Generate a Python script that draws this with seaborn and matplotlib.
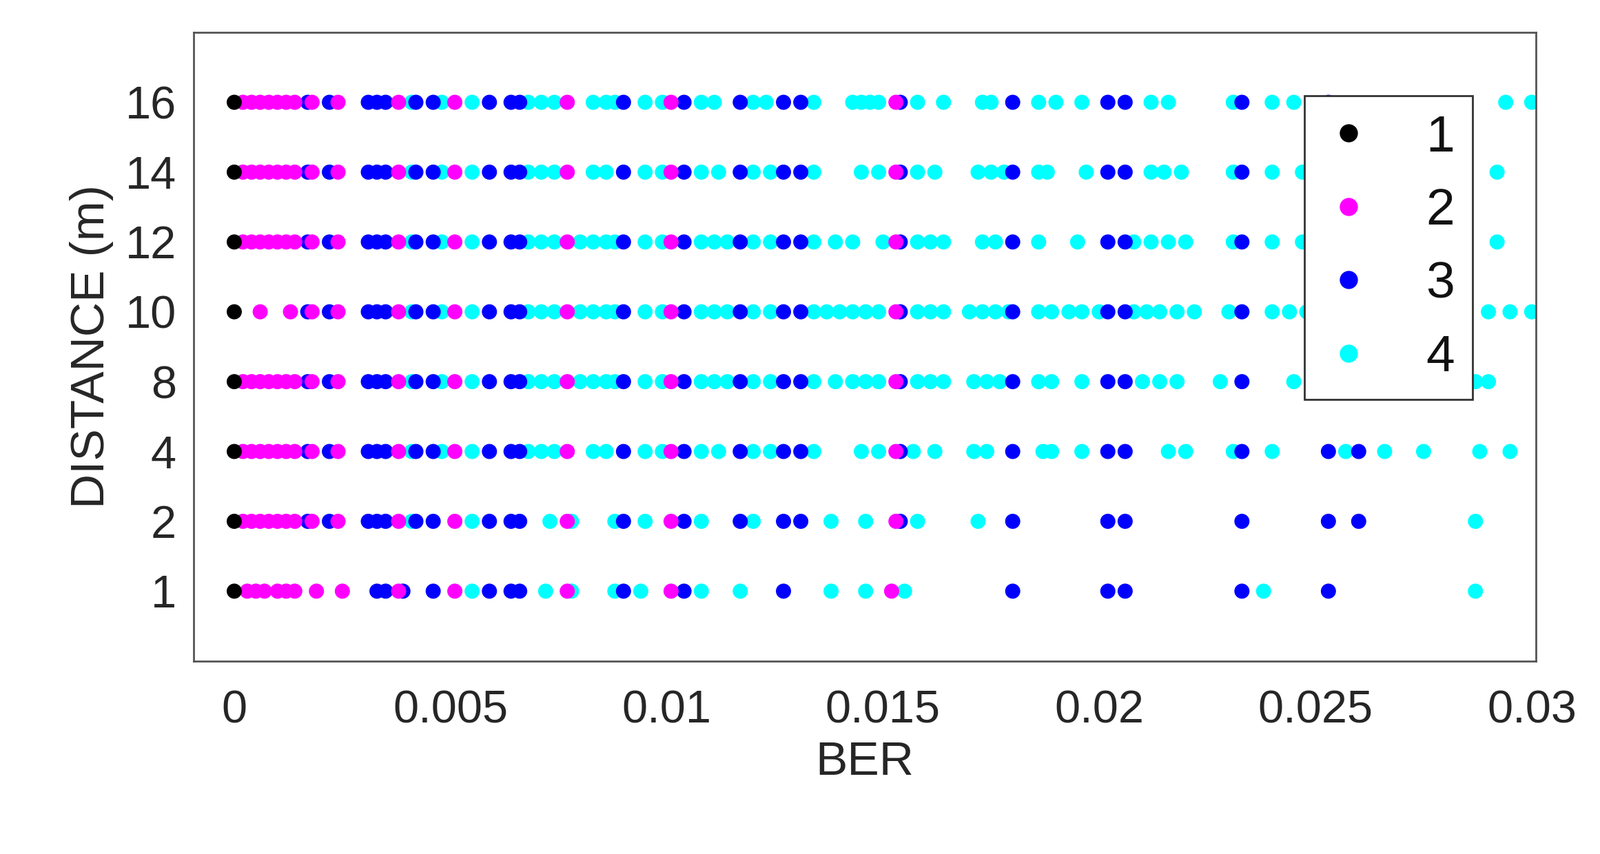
import pandas as pd
import matplotlib.pyplot as plt
import seaborn as sns

sns.set_style("white")
plt.rcParams['font.family'] = ['Liberation Sans', 'DejaVu Sans']

distances = [1, 2, 4, 8, 10, 12, 14, 16]
classes = ["1", "2", "3", "4"]
colors = ["black", "magenta", "blue", "cyan"]

mag_full = [0.0002, 0.0004, 0.0006, 0.0008, 0.0010, 0.0012, 0.0014, 0.0018, 0.0024,
            0.0038, 0.0051, 0.0077, 0.0101, 0.0153]
mag_10 = [0.0006, 0.0013, 0.0018, 0.0024, 0.0038, 0.0051, 0.0077, 0.0101, 0.0153]
mag_1 = [0.0003, 0.0005, 0.0007, 0.0010, 0.0012, 0.0014, 0.0019, 0.0025, 0.0038,
         0.0051, 0.0077, 0.0101, 0.0152]

blue_full = [0.0017, 0.0022, 0.0031, 0.0033, 0.0035, 0.0042, 0.0046, 0.0059, 0.0064,
             0.0066, 0.0090, 0.0104, 0.0117, 0.0127, 0.0131, 0.0154, 0.0180, 0.0202,
             0.0206, 0.0233, 0.0253]
blue_2 = blue_full + [0.0260]
blue_1 = [0.0033, 0.0035, 0.0039, 0.0046, 0.0059, 0.0064, 0.0066, 0.0090, 0.0104,
          0.0127, 0.0180, 0.0202, 0.0206, 0.0233, 0.0253]

cyan_rows = {
    16: [0.0041, 0.0048, 0.0055, 0.0068, 0.0071, 0.0074, 0.0083, 0.0086, 0.0088, 0.0095,
         0.0099, 0.0108, 0.0111, 0.0120, 0.0123, 0.0134, 0.0143, 0.0145, 0.0147, 0.0149,
         0.0158, 0.0164, 0.0173, 0.0175, 0.0186, 0.0190, 0.0196, 0.0212, 0.0216, 0.0231,
         0.0240, 0.0245, 0.0294, 0.0300],
    14: [0.0041, 0.0048, 0.0055, 0.0068, 0.0071, 0.0074, 0.0083, 0.0086, 0.0095, 0.0099,
         0.0108, 0.0112, 0.0120, 0.0124, 0.0134, 0.0145, 0.0149, 0.0158, 0.0162, 0.0172,
         0.0175, 0.0178, 0.0186, 0.0188, 0.0197, 0.0212, 0.0215, 0.0219, 0.0231, 0.0240,
         0.0247, 0.0249, 0.0265, 0.0270, 0.0275, 0.0292],
    12: [0.0041, 0.0048, 0.0055, 0.0068, 0.0071, 0.0074, 0.0080, 0.0083, 0.0086, 0.0088,
         0.0095, 0.0099, 0.0108, 0.0111, 0.0114, 0.0120, 0.0124, 0.0134, 0.0139, 0.0143,
         0.0150, 0.0158, 0.0161, 0.0164, 0.0173, 0.0176, 0.0186, 0.0195, 0.0208, 0.0212,
         0.0216, 0.0220, 0.0231, 0.0240, 0.0247, 0.0250, 0.0262, 0.0272, 0.0275, 0.0292],
    10: [0.0041, 0.0048, 0.0055, 0.0068, 0.0071, 0.0074, 0.0080, 0.0083, 0.0086, 0.0088,
         0.0095, 0.0099, 0.0108, 0.0111, 0.0114, 0.0120, 0.0124, 0.0134, 0.0137, 0.0140,
         0.0143, 0.0146, 0.0149, 0.0158, 0.0161, 0.0164, 0.0170, 0.0173, 0.0176, 0.0179,
         0.0186, 0.0189, 0.0193, 0.0196, 0.0200, 0.0208, 0.0211, 0.0214, 0.0218, 0.0222,
         0.0230, 0.0240, 0.0244, 0.0248, 0.0262, 0.0268, 0.0273, 0.0290, 0.0295, 0.0300],
    8: [0.0041, 0.0048, 0.0055, 0.0068, 0.0071, 0.0074, 0.0080, 0.0083, 0.0086, 0.0088,
        0.0095, 0.0099, 0.0108, 0.0111, 0.0114, 0.0120, 0.0124, 0.0134, 0.0139, 0.0143,
        0.0146, 0.0149, 0.0158, 0.0161, 0.0164, 0.0171, 0.0174, 0.0177, 0.0186, 0.0189,
        0.0196, 0.0210, 0.0214, 0.0218, 0.0228, 0.0245, 0.0274, 0.0287, 0.0290],
    4: [0.0041, 0.0048, 0.0055, 0.0068, 0.0071, 0.0074, 0.0083, 0.0086, 0.0095, 0.0099,
        0.0108, 0.0112, 0.0120, 0.0124, 0.0134, 0.0145, 0.0149, 0.0157, 0.0162, 0.0171,
        0.0174, 0.0187, 0.0189, 0.0196, 0.0216, 0.0220, 0.0231, 0.0240, 0.0257, 0.0266,
        0.0275, 0.0288, 0.0295],
    2: [0.0041, 0.0055, 0.0073, 0.0078, 0.0088, 0.0095, 0.0108, 0.0120, 0.0138, 0.0146,
        0.0158, 0.0172, 0.0287],
    1: [0.0055, 0.0072, 0.0078, 0.0088, 0.0094, 0.0108, 0.0117, 0.0138, 0.0146, 0.0155,
        0.0238, 0.0287],
}

rows = []
for d in distances:
    rows.append((d, "1", 0.0))
    mags = mag_1 if d == 1 else (mag_10 if d == 10 else mag_full)
    blues = blue_1 if d == 1 else (blue_2 if d in (2, 4, 8, 10, 12, 14) else blue_full)
    for v in mags:
        rows.append((d, "2", v))
    for v in blues:
        rows.append((d, "3", v))
    for v in cyan_rows[d]:
        rows.append((d, "4", v))
df = pd.DataFrame(rows, columns=["distance", "cls", "ber"])
df["ypos"] = df["distance"].map({d: i for i, d in enumerate(distances)})
# draw cyan first, then blue, magenta, black on top
df["order"] = df["cls"].map({"4": 0, "3": 1, "2": 2, "1": 3})
df = df.sort_values("order")

fig = plt.figure(figsize=(23.22, 12.4), dpi=100)
ax = fig.add_axes([0.121, 0.226, 0.839, 0.736])
sns.scatterplot(data=df, x="ber", y="ypos", hue="cls", hue_order=classes,
                palette=colors, s=250, linewidth=0, ax=ax, legend=True)

ax.set_xlim(-0.00094, 0.0301)
ax.set_ylim(-1, 8)
ax.set_yticks(range(len(distances)))
ax.set_yticklabels([str(d) for d in distances])
xt = [0, 0.005, 0.01, 0.015, 0.02, 0.025, 0.03]
ax.set_xticks(xt)
ax.set_xticklabels(["0", "0.005", "0.01", "0.015", "0.02", "0.025", "0.03"])
ax.tick_params(direction="in", length=10, width=1.5, labelsize=48, colors="#333333",
               labelcolor="#262626", pad=18)
ax.tick_params(axis="x", pad=30)
for s in ax.spines.values():
    s.set_color("#555555")
    s.set_linewidth(2)
ax.set_xlabel("BER", fontsize=50, color="#262626", labelpad=8)
ax.set_ylabel("DISTANCE (m)", fontsize=50, color="#262626", labelpad=12)

leg = ax.legend(loc="upper right", bbox_to_anchor=(0.972, 0.94), fontsize=54,
                markerscale=1.2, frameon=True, fancybox=False, framealpha=1,
                handlelength=1.0, handletextpad=1.0, labelspacing=0.5, borderpad=0.35)
leg.get_frame().set_edgecolor("#333333")
leg.get_frame().set_linewidth(2)
for t in leg.get_texts():
    t.set_color("#111111")

fig.savefig("out.png", dpi=100)
